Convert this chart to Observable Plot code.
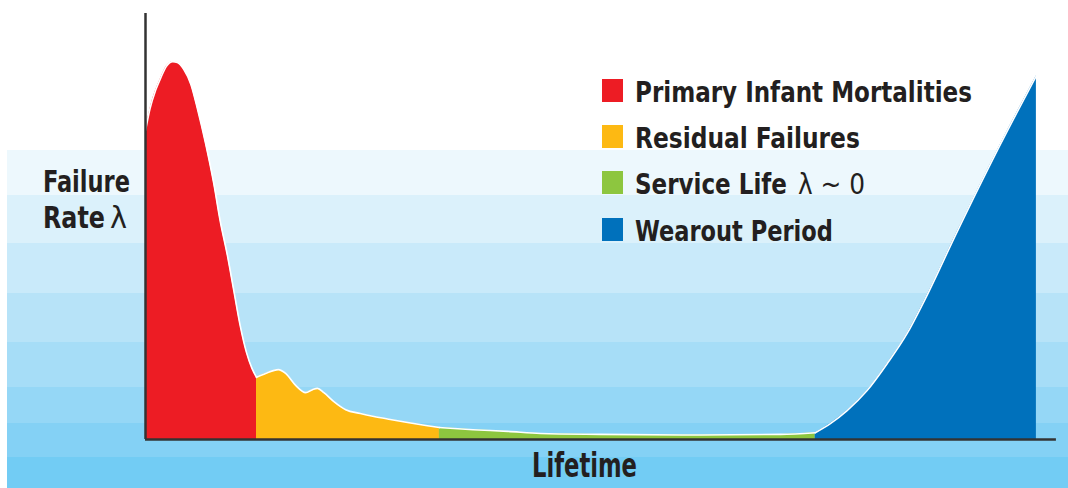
<!DOCTYPE html>
<html><head><meta charset="utf-8">
<script src="https://cdn.jsdelivr.net/npm/d3@7"></script>
<script src="https://cdn.jsdelivr.net/npm/@observablehq/plot@0.6"></script>
<style>
html,body{margin:0;padding:0;background:#fff;}
#chart{width:1068px;height:488px;position:relative;
  background:
   linear-gradient(to bottom,
     #edf8fd 0px 45px, #dbf1fb 45px 93px, #c9eafa 93px 143px, #b7e3f8 143px 192px,
     #a6ddf7 192px 237px, #95d7f6 237px 273px, #84d1f5 273px 307px, #72ccf4 307px 338px)
   no-repeat 7px 150px / 1061px 338px, #ffffff;}
svg text.lbl{font-family:"Liberation Sans Narrow","DejaVu Sans Condensed","Roboto Condensed","Liberation Sans",sans-serif;text-anchor:start;}
</style></head><body><div id="chart"></div>
<script>
// ---- data (lifetime 0–100, failure rate 0–100) ----
const phases = ["Primary Infant Mortalities", "Residual Failures", "Service Life", "Wearout Period"];
const phaseColors = ["#ed1c24", "#fdb913", "#8dc63f", "#0071bc"];

const infantX = [0, 0.5, 1.1, 1.7, 2.3, 3.0, 3.5, 4.2, 5.0, 5.7, 6.6, 7.5, 8.2, 9.0, 9.7, 10.4, 11.1, 11.7, 12.2];
const infantY = [72.5, 77.7, 81.9, 85.0, 87.6, 88.7, 88.5, 86.9, 83.3, 77.7, 69.5, 60.1, 51.4, 43.2, 35.0, 26.8, 20.4, 16.7, 14.6];

const residualX = [12.2, 13.2, 14.6, 15.4, 16.5, 17.6, 18.35, 18.9, 19.6, 20.7, 22.0, 23.6, 25.1, 26.9, 28.8, 30.8, 32.3];
const residualY = [14.6, 15.5, 16.4, 15.5, 12.7, 11.0, 11.7, 12.0, 11.0, 8.9, 7.0, 6.1, 5.4, 4.7, 4.0, 3.3, 2.8];

const serviceX = [32.3, 36.0, 39.8, 43.4, 50.0, 61.0, 69.8, 73.6];
const serviceY = [2.8, 2.3, 1.9, 1.4, 1.2, 1.05, 1.2, 1.6];

const wearoutX = [73.6, 75.3, 77.1, 79.3, 81.5, 83.7, 85.5, 89.2, 94.0, 97.9];
const wearoutY = [1.6, 3.8, 6.8, 11.5, 17.8, 24.9, 32.2, 48.8, 69.5, 85.4];

const legendLabels = ["Primary Infant Mortalities", "Residual Failures", "Service Life", "Wearout Period"];
const legendSuffix = ["", "", "λ ~ 0", ""];
const yLabel = ["Failure", "Rate"];
const yLabelSuffix = "λ";
const xLabel = "Lifetime";

// ---- table ----
const series = [[infantX, infantY], [residualX, residualY], [serviceX, serviceY], [wearoutX, wearoutY]];
const rows = [];
series.forEach(([xs, ys], k) => xs.forEach((x, i) => rows.push({phase: phases[k], lifetime: x, rate: ys[i]})));

const chart = Plot.plot({
  width: 1068, height: 488,
  marginLeft: 145, marginRight: 13, marginTop: 13, marginBottom: 49,
  x: {domain: [0, 100], axis: null},
  y: {domain: [0, 100], axis: null},
  color: {domain: phases, range: phaseColors},
  style: {background: "transparent", overflow: "visible"},
  marks: [
    Plot.area(rows, {x1: "lifetime", y1: 0, y2: "rate", fill: "phase", z: "phase", curve: "monotone-x"}),
    Plot.line(rows, {x: "lifetime", y: "rate", z: "phase", stroke: "#ffffff", strokeWidth: 1.6, curve: "monotone-x"}),
    Plot.ruleY([0], {x1: 0, x2: 100.1, stroke: "#333333", strokeWidth: 2.5}),
    Plot.ruleX([0], {y1: 0, y2: 100, stroke: "#333333", strokeWidth: 2.5})
  ]
});
document.getElementById("chart").appendChild(chart);

const svg = d3.select(chart);
const ink = "#231f20";

// text squeezed horizontally to a target width via a transform
function addText(x, y, size, weight, str, w) {
  const t = svg.append("text").attr("class", "lbl").attr("x", 0).attr("y", 0)
    .attr("fill", ink).attr("font-size", size).attr("font-weight", weight).text(str);
  const natural = t.node().getComputedTextLength() || w;
  t.attr("transform", `translate(${x},${y}) scale(${w / natural},1)`);
  return t;
}

// legend
const lgX = 602, lgTop = 102, lgStep = 46;
const lgWidths = [337, 225, 152, 198];
legendLabels.forEach((lab, i) => {
  const base = lgTop + i * lgStep + (i === 3 ? 1 : 0);
  svg.append("rect").attr("x", lgX).attr("y", base - 23).attr("width", 21).attr("height", 23).attr("fill", phaseColors[i]);
  addText(lgX + 33, base, 29, "bold", lab, lgWidths[i]);
  if (legendSuffix[i]) addText(lgX + 33 + lgWidths[i] + 11, base, 29, "normal", legendSuffix[i], 67);
});

// y label
addText(43, 192, 30, "bold", yLabel[0], 87);
addText(43, 228, 30, "bold", yLabel[1], 62);
addText(110, 228, 30, "normal", yLabelSuffix, 17);

// x label
addText(532, 477, 33, "bold", xLabel, 105);
</script></body></html>
